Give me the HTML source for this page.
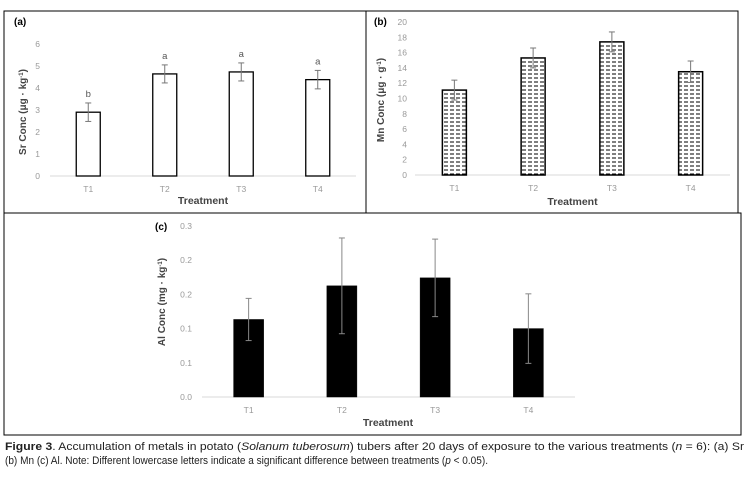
<!DOCTYPE html>
<html><head><meta charset="utf-8"><style>
html,body{margin:0;padding:0;background:#fff}
svg{display:block;font-family:"Liberation Sans",sans-serif}
</style></head><body>
<svg id="fig" width="747" height="477" viewBox="0 0 747 477">
<defs>
<pattern id="dash" width="6" height="4" patternUnits="userSpaceOnUse">
<rect width="6" height="4" fill="#fff"/>
<line x1="0" y1="2" x2="4" y2="2" stroke="#000" stroke-width="1"/>
</pattern>
</defs>
<rect x="4" y="11" width="362" height="202" fill="none" stroke="#000" stroke-width="1"/>
<rect x="366" y="11" width="372" height="202" fill="none" stroke="#000" stroke-width="1"/>
<rect x="4" y="213" width="737" height="222" fill="none" stroke="#000" stroke-width="1"/>
<g id="ga"></g>
<g id="gb"></g>
<g id="gc"></g>
<text x="5" y="450" font-size="11" textLength="739" lengthAdjust="spacingAndGlyphs" fill="#222"><tspan font-weight="bold">Figure 3</tspan>. Accumulation of metals in potato (<tspan font-style="italic">Solanum tuberosum</tspan>) tubers after 20 days of exposure to the various treatments (<tspan font-style="italic">n</tspan> = 6): (a) Sr</text>
<text x="5" y="464" font-size="11" textLength="483" lengthAdjust="spacingAndGlyphs" fill="#222">(b) Mn (c) Al. Note: Different lowercase letters indicate a significant difference between treatments (<tspan font-style="italic">p</tspan> &lt; 0.05).</text>
</svg>
<script>
const categories = ["T1","T2","T3","T4"];
const srValues = [2.9, 4.64, 4.73, 4.38];
const srErrors = [0.42, 0.41, 0.41, 0.42];
const srLetters = ["b","a","a","a"];
const srTicks = ["0","1","2","3","4","5","6"];
const mnValues = [11.1, 15.3, 17.4, 13.5];
const mnErrors = [1.3, 1.3, 1.3, 1.4];
const mnTicks = ["0","2","4","6","8","10","12","14","16","18","20"];
const alValues = [0.136, 0.195, 0.209, 0.12];
const alErrors = [0.037, 0.084, 0.068, 0.061];
const alTicks = ["0.0","0.1","0.1","0.2","0.2","0.3"];

const NS = "http://www.w3.org/2000/svg";
function mk(parent, tag, attrs, text){
  const e = document.createElementNS(NS, tag);
  for (const k in attrs) e.setAttribute(k, attrs[k]);
  if (text !== undefined) e.textContent = text;
  parent.appendChild(e);
  return e;
}
function panel(o){
  const g = document.getElementById(o.id);
  const n = categories.length;
  const step = (o.x1 - o.x0) / n;
  const xc = i => o.x0 + step * (i + 0.5);
  const y = v => o.yb - (v / o.vmax) * (o.yb - o.yt);
  o.ticks.forEach((t, i) => {
    const v = o.vmax * i / (o.ticks.length - 1);
    const tl = mk(g, "text", {x: o.tx, y: y(v) + 3, "font-size": 8.5, "text-anchor": "end", fill: "#999"}, t);
    
    
  });
  const ax = mk(g, "line", {x1: o.x0, x2: o.x1, y1: o.yb, y2: o.yb, stroke: "#d9d9d9", "stroke-width": 1});
  
  
  categories.forEach((c, i) => {
    const v = o.values[i], e = o.errors[i];
    const b = mk(g, "rect", {x: xc(i) - o.bw/2, y: y(v), width: o.bw, height: o.yb - y(v), fill: o.fill, stroke: "#000", "stroke-width": o.sw});
    
    
    const eg = mk(g, "g", {stroke: o.ec, "stroke-width": 1});
    
    
    mk(eg, "line", {x1: xc(i), x2: xc(i), y1: y(v + e), y2: y(v - e)});
    mk(eg, "line", {x1: xc(i) - 3, x2: xc(i) + 3, y1: y(v + e), y2: y(v + e)});
    mk(eg, "line", {x1: xc(i) - 3, x2: xc(i) + 3, y1: y(v - e), y2: y(v - e)});
    const tl = mk(g, "text", {x: xc(i), y: o.xly, "font-size": 8.5, "text-anchor": "middle", fill: "#999"}, c);
    
    
    if (o.letters) {
      const lt = mk(g, "text", {x: xc(i), y: y(v + e) - 6, "font-size": 9.5, "text-anchor": "middle", fill: "#555"}, o.letters[i]);
      
      
    }
  });
  const xt = mk(g, "text", {x: o.xtx !== undefined ? o.xtx : (o.x0 + o.x1) / 2, y: o.xty, "font-size": 10.5, "font-weight": "bold", "text-anchor": "middle", fill: "#444"}, "Treatment");
  
  
  const yt = mk(g, "text", {x: 0, y: 0, "font-size": 10, "font-weight": "bold", "text-anchor": "middle", fill: "#444", transform: `translate(${o.ytx},${o.yty}) rotate(-90)`});
  yt.innerHTML = o.ytitle;
  
  
  const pl = mk(g, "text", {x: o.lx, y: o.ly, "font-size": 10, "font-weight": "bold", fill: "#000"}, o.label);
  
  
}
panel({id: "ga", x0: 50, x1: 356, yb: 176, yt: 44, vmax: 6, ticks: srTicks, values: srValues, errors: srErrors, letters: srLetters,
  bw: 24, fill: "#fff", sw: 1.3, ec: "#777", tx: 40, xly: 192, xty: 204, ytx: 26, yty: 112,
  ytitle: 'Sr Conc (μg · kg<tspan baseline-shift="super" font-size="6">-1</tspan>)', lx: 14, ly: 25, label: "(a)"});
panel({id: "gb", x0: 415, x1: 730, yb: 175, yt: 22, vmax: 20, ticks: mnTicks, values: mnValues, errors: mnErrors,
  bw: 24, fill: "url(#dash)", sw: 1.5, ec: "#777", tx: 407, xly: 191, xty: 205, ytx: 384, yty: 100,
  ytitle: 'Mn Conc (μg · g<tspan baseline-shift="super" font-size="6">-1</tspan>)', lx: 374, ly: 25, label: "(b)"});
panel({id: "gc", x0: 202, x1: 575, yb: 397, yt: 226, vmax: 0.3, ticks: alTicks, values: alValues, errors: alErrors,
  bw: 30, fill: "#000", sw: 0.5, ec: "#888", tx: 192, xly: 413, xty: 426, xtx: 388, ytx: 165, yty: 302,
  ytitle: 'Al Conc (mg · kg<tspan baseline-shift="super" font-size="6">-1</tspan>)', lx: 155, ly: 230, label: "(c)"});
</script>
</body></html>
